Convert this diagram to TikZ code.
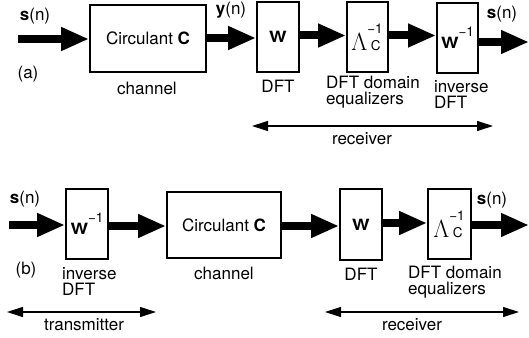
\documentclass[tikz,border=0pt]{standalone}
\usepackage{fontspec}
\setmainfont{TeX Gyre Heros}
\usetikzlibrary{arrows.meta}
\newcommand{\supsz}{\fontsize{13.5}{13.5}\selectfont}
\newcommand{\Wsym}{\scalebox{1.2}[1]{\fontsize{15.5}{15.5}\selectfont\textbf{W}}}
\newcommand{\invW}{\Wsym\raisebox{12pt}{\supsz −1}}
\newcommand{\eqL}{{\fontsize{23}{23}\selectfont$\Lambda$}\rlap{\raisebox{17pt}{\supsz −1}}\hspace{3.5pt}{\supsz C}}
\begin{document}
\begin{tikzpicture}[x=1pt,y=-1pt,
  every node/.style={font=\fontsize{17}{19}\selectfont, inner sep=0pt},
  blk/.style={draw, line width=1.8pt, fill=white},
  flow/.style={line width=8pt, -{Triangle[length=28pt,width=22pt]}},
  span/.style={line width=1.1pt, {Triangle[length=16pt,width=10pt]}-{Triangle[length=16pt,width=10pt]}},
  lbl/.style={align=left, anchor=west}]
\useasboundingbox (0,0) rectangle (529,337);

% ---------- (a) ----------
\node[blk, minimum width=116pt, minimum height=67pt] (C1) at (148,38.5) {Circulant \textbf{C}};
\node[blk, minimum width=42pt, minimum height=70pt] (Wa) at (278,37) {\Wsym};
\node[blk, minimum width=41pt, minimum height=70pt] (La) at (367.5,37) {\hspace{-3pt}\eqL};
\node[blk, minimum width=41pt, minimum height=70pt] (Wia) at (457.5,38) {\invW};

\coordinate (ina) at (18,39);
\coordinate (outa) at (529,42);
\draw[flow] (ina) -- (C1.west |- ina);
\draw[flow] (C1.east |- 0,38) -- (Wa.west |- 0,38);
\draw[flow] (Wa.east |- 0,35.5) -- (La.west |- 0,35.5);
\draw[flow] (La.east |- 0,35.5) -- (Wia.west |- 0,35.5);
\draw[flow] (Wia.east |- outa) -- (outa);

\node (sa) at (35,16) {\textbf{s}(n)};
\node (ya) at (231,10) {\textbf{y}(n)};
\node (sao) at (502,14) {\textbf{s}(n)};
\node (taga) at (28,74) {(a)};
\node (cha) at (147,88) {channel};
\node (dfta) at (278,86) {DFT};
\node[lbl] (eqa) at (326,92) {DFT domain\\[-3pt]equalizers};
\node[lbl] (idfta) at (434,94) {inverse\\[-3pt]DFT};

\coordinate (rxaL) at (252,126);
\coordinate (rxaR) at (493,126);
\draw[span] (rxaL) -- (rxaR);
\node (rxa) at (362,139) {receiver};

% ---------- (b) ----------
\node[blk, minimum width=42pt, minimum height=70pt] (Wib) at (87,224) {\invW};
\node[blk, minimum width=114pt, minimum height=66pt] (C2) at (224,225) {Circulant \textbf{C}};
\node[blk, minimum width=42pt, minimum height=71pt] (Wb) at (361,224.5) {\Wsym};
\node[blk, minimum width=43pt, minimum height=70pt] (Lb) at (449.5,224) {\hspace{-3pt}\eqL};

\coordinate (inb) at (9,225);
\coordinate (outb) at (529,225);
\draw[flow] (inb) -- (Wib.west |- inb);
\draw[flow] (Wib.east |- 0,226) -- (C2.west |- 0,226);
\draw[flow] (C2.east |- 0,226) -- (Wb.west |- 0,226);
\draw[flow] (Wb.east |- 0,223) -- (Lb.west |- 0,223);
\draw[flow] (Lb.east |- outb) -- (outb);

\node (sb) at (25,199) {\textbf{s}(n)};
\node (sbo) at (492,200) {\textbf{s}(n)};
\node (tagb) at (26,270) {(b)};
\node[lbl] (idftb) at (62,281) {inverse\\[-3pt]DFT};
\node (chb) at (224,273) {channel};
\node (dftb) at (361,274) {DFT};
\node[lbl] (eqb) at (408,282) {DFT domain\\[-3pt]equalizers};

\coordinate (txL) at (7,312);
\coordinate (txR) at (156,312);
\draw[span] (txL) -- (txR);
\node (txb) at (84,325) {transmitter};

\coordinate (rxbL) at (325,312);
\coordinate (rxbR) at (519,312);
\draw[span] (rxbL) -- (rxbR);
\node (rxb) at (412,325) {receiver};
\end{tikzpicture}
\end{document}
